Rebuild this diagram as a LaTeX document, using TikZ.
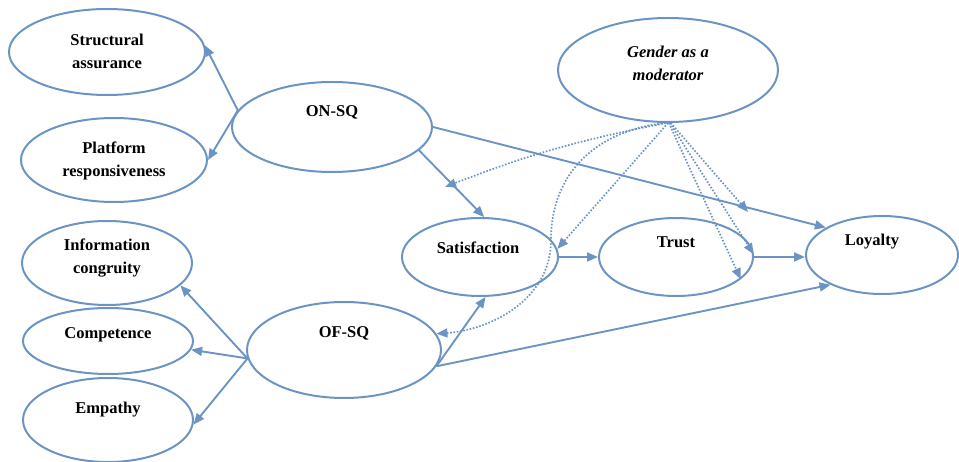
\documentclass[tikz,border=0pt]{standalone}
\usepackage{fontspec}
\setmainfont{Liberation Serif}
\usetikzlibrary{shapes.geometric,arrows.meta}
\definecolor{lc}{RGB}{107,148,196}
\begin{document}
\begin{tikzpicture}[x=1pt,y=-1pt,
  ell/.style={ellipse,draw=lc,line width=2pt,inner sep=0pt},
  lab/.style={font=\fontsize{16.5}{23}\selectfont\bfseries,align=center,text=black},
  arr/.style={draw=lc,line width=1.9pt,-{Triangle[length=11pt,width=9pt]}},
  dot/.style={draw=lc,line width=1.7pt,dash pattern=on 1.6pt off 1.7pt,-{Triangle[length=11pt,width=9pt]}}]
\useasboundingbox (0,0) rectangle (959,462);
% ellipses
\node[ell,minimum width=196pt,minimum height=86pt] (sa) at (107,52) {};
\node[ell,minimum width=186pt,minimum height=84pt] (pr) at (114,160) {};
\node[ell,minimum width=200pt,minimum height=90pt] (onsq) at (332,127) {};
\node[ell,minimum width=220pt,minimum height=104pt] (gen) at (668,70) {};
\node[ell,minimum width=156pt,minimum height=78pt] (sat) at (480,257) {};
\node[ell,minimum width=154pt,minimum height=78pt] (trust) at (676,257) {};
\node[ell,minimum width=152pt,minimum height=78pt] (loy) at (882,255) {};
\node[ell,minimum width=194pt,minimum height=96pt] (ofsq) at (344,350) {};
\node[ell,minimum width=170pt,minimum height=84pt] (ic) at (107,263) {};
\node[ell,minimum width=170pt,minimum height=66pt] (comp) at (108,341) {};
\node[ell,minimum width=170pt,minimum height=84pt] (emp) at (108,420) {};
% labels
\node[lab] (tsa) at (107,51) {Structural\\assurance};
\node[lab] (tpr) at (114,161) {Platform\\responsiveness};
\node[lab] (tonsq) at (332,112) {ON-SQ};
\node[lab,font=\fontsize{16.5}{23}\selectfont\bfseries\itshape] (tgen) at (668,63) {Gender as a\\moderator};
\node[lab] (tsat) at (478,248) {Satisfaction};
\node[lab] (ttrust) at (676,242) {Trust};
\node[lab] (tloy) at (872,242) {Loyalty};
\node[lab] (tofsq) at (344,333) {OF-SQ};
\node[lab] (tic) at (107,258) {Information\\congruity};
\node[lab] (tcomp) at (108,335) {Competence};
\node[lab] (temp) at (108,410) {Empathy};
% solid arrows
\draw[arr] (onsq.170) -- (sa.4);
\draw[arr] (onsq.170) -- (pr.east);
\draw[arr] (onsq.-15) -- (sat.84);
\draw[arr] (onsq.east) -- (loy.154);
\draw[arr] (sat.east) -- (trust.west);
\draw[arr] (trust.east) -- (trust.east -| loy.west);
\draw[arr] (ofsq.-10) -- (sat.-82);
\draw[arr] (ofsq.-10) -- (loy.210);
\draw[arr] (ofsq.185) -- (ic.-17);
\draw[arr] (ofsq.185) -- (comp.-6);
\draw[arr] (ofsq.185) -- (emp.-3);
% dotted moderator arrows
\coordinate (c1) at (445,187);
\coordinate (c2) at (748,212);
\coordinate (m) at (551,240);
\draw[dot] (gen.-92) to[bend right=5] (c1);
\draw[dot] (gen.-90) -- (sat.6);
\draw[dot,-] (gen.-93) .. controls (600,130) and (551,170) .. (m);
\draw[dot] (m) .. controls (551,300) and (490,330) .. (ofsq.10);
\draw[dot] (gen.-87) -- (c2);
\draw[dot] (gen.-88) -- (trust.2);
\draw[dot] (gen.-89) -- (trust.-19);
\end{tikzpicture}
\end{document}
